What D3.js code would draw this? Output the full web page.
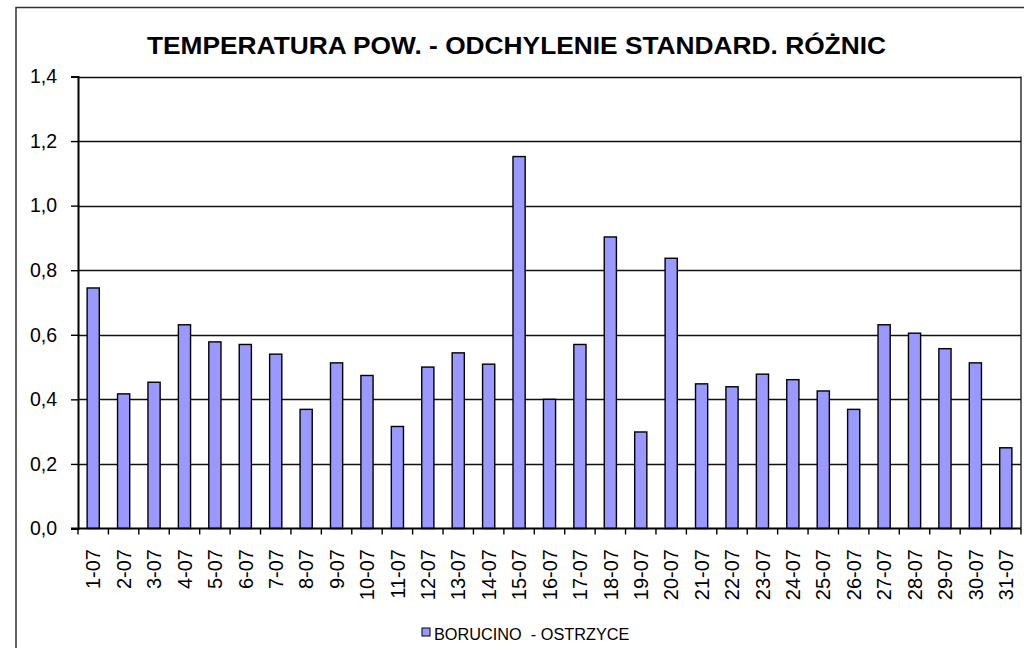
<!DOCTYPE html>
<html>
<head>
<meta charset="utf-8">
<script src="https://cdn.jsdelivr.net/npm/d3@7"></script>
<style>
  html, body { margin: 0; padding: 0; background: #fff; }
  svg { display: block; }
  text { font-family: "Liberation Sans", Arial, sans-serif; }
</style>
</head>
<body>
<svg id="chart" width="1024" height="648"></svg>
<script>
const categories = ["1-07","2-07","3-07","4-07","5-07","6-07","7-07","8-07","9-07","10-07",
  "11-07","12-07","13-07","14-07","15-07","16-07","17-07","18-07","19-07","20-07",
  "21-07","22-07","23-07","24-07","25-07","26-07","27-07","28-07","29-07","30-07","31-07"];
const values = [0.745,0.417,0.453,0.631,0.578,0.570,0.540,0.369,0.513,0.474,
  0.316,0.500,0.544,0.509,1.152,0.400,0.570,0.903,0.299,0.837,
  0.448,0.439,0.478,0.461,0.426,0.369,0.631,0.605,0.557,0.513,0.250];
const yTicks = [0,0.2,0.4,0.6,0.8,1.0,1.2,1.4];
const seriesName = "BORUCINO  - OSTRZYCE";
const title = "TEMPERATURA POW. - ODCHYLENIE STANDARD. RÓŻNIC";

const svg = d3.select("#chart");
const L = 78, R = 1021, T = 76.5, B = 528.5;

// outer frame (extends past right/bottom of viewport)
svg.append("rect").attr("x",16).attr("y",7.5).attr("width",1100).attr("height",700)
  .attr("fill","none").attr("stroke","#333").attr("stroke-width",1.5);

const x = d3.scaleBand().domain(categories).range([L,R]).paddingInner(0.6).paddingOuter(0.3);
const xTickScale = d3.scaleBand().domain(categories).range([L,R]).padding(0);
const y = d3.scaleLinear().domain([0,1.4]).range([B,T]);

// gridlines
svg.append("g").selectAll("line").data(yTicks.filter(d=>d>0)).join("line")
  .attr("x1",L).attr("x2",R).attr("y1",d=>Math.round(y(d))+0.5).attr("y2",d=>Math.round(y(d))+0.5)
  .attr("stroke","#111").attr("stroke-width",1.5);

// right border of plot area
svg.append("line").attr("x1",R).attr("x2",R).attr("y1",T).attr("y2",B)
  .attr("stroke","#111").attr("stroke-width",1.3);

// bars
svg.append("g").selectAll("rect").data(values).join("rect")
  .attr("x",(d,i)=>x(categories[i]))
  .attr("width",x.bandwidth())
  .attr("y",d=>y(d))
  .attr("height",d=>B-y(d))
  .attr("fill","#9999FF").attr("stroke","#000").attr("stroke-width",1.4);

// y axis
const yAxis = d3.axisLeft(y).tickValues(yTicks).tickSize(7).tickPadding(14)
  .tickFormat(d=>d3.format(".1f")(d).replace(".",","));
const gy = svg.append("g").attr("transform",`translate(${L},0)`).call(yAxis);
gy.select(".domain").attr("stroke","#000").attr("stroke-width",2);
gy.selectAll(".tick line").attr("stroke","#000").attr("stroke-width",1.4);
gy.selectAll(".tick text").attr("font-size",19.5).attr("fill","#000")
  .attr("font-family","'Liberation Sans', Arial, sans-serif");

// x axis
const boundaries = categories.map(c=>xTickScale(c)).concat([R]);
svg.append("line").attr("x1",L-7).attr("x2",R).attr("y1",B).attr("y2",B)
  .attr("stroke","#000").attr("stroke-width",2);
svg.append("g").selectAll("line").data(boundaries).join("line")
  .attr("x1",d=>d).attr("x2",d=>d).attr("y1",B).attr("y2",B+6)
  .attr("stroke","#000").attr("stroke-width",1.4);

svg.append("g").selectAll("text").data(categories).join("text")
  .attr("transform",d=>`translate(${x(d)+x.bandwidth()/2},549) rotate(-90)`)
  .attr("text-anchor","end").attr("dy","0.36em")
  .attr("font-size",20).attr("fill","#000").text(d=>d);

// title
svg.append("text").attr("x",147).attr("y",54)
  .attr("font-size",23).attr("font-weight","bold").attr("fill","#000")
  .attr("textLength",739).attr("lengthAdjust","spacingAndGlyphs")
  .text(title);

// legend
svg.append("rect").attr("x",422).attr("y",628).attr("width",8).attr("height",8)
  .attr("fill","#9999FF").attr("stroke","#000").attr("stroke-width",1);
svg.append("text").attr("x",434).attr("y",640).attr("font-size",16.3).attr("fill","#000")
  .style("white-space","pre").text(seriesName);
</script>
</body>
</html>
